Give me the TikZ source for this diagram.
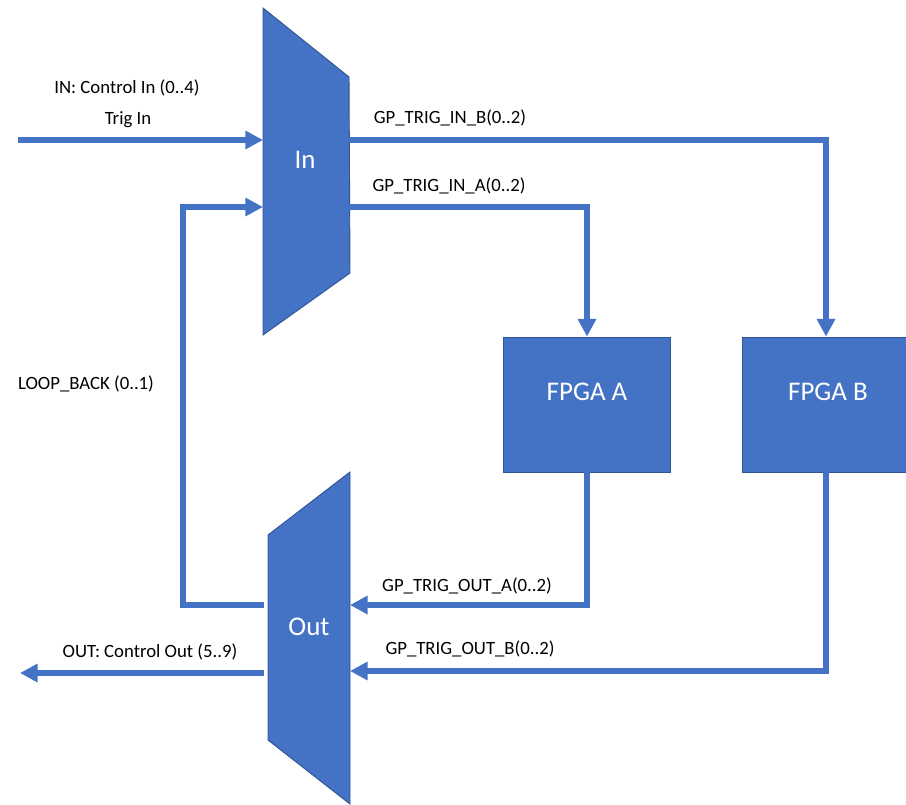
\documentclass[tikz,border=0pt]{standalone}
\usepackage{fontspec}
\setmainfont{Carlito}
\usetikzlibrary{arrows.meta}
\definecolor{muxblue}{HTML}{4472C4}
\definecolor{edgeblue}{HTML}{2F5597}

\begin{document}
\begin{tikzpicture}[x=0.03cm, y=-0.03cm]
        \useasboundingbox (0,0) rectangle (906,804);
        \tikzstyle{wire}=[draw=muxblue, line width=4.5pt, line join=miter, -{Triangle[length=15pt,width=15pt]}]
        \tikzstyle{mux}=[fill=muxblue, draw=edgeblue, line width=0.8pt]
        \tikzstyle{fpga}=[fill=muxblue, draw=edgeblue, line width=0.8pt, text=white,
                          minimum width=5cm, minimum height=4.05cm]
        \tikzstyle{lbl}=[font=\fontsize{16}{19}\selectfont]
        \tikzstyle{bigtext}=[text=white, font=\fontsize{23}{28}\selectfont]
        % the two multiplexers
        \draw[mux] (263,8) -- (349,77) -- (350,273) -- (263,335) -- cycle;
        \draw[mux] (268,535) -- (350,472) -- (350,804) -- (268,740) -- cycle;
        \node[bigtext] (mux-in)  at (305,160) {In};
        \node[bigtext] (mux-out) at (309,627) {Out};
        \node[fpga] (fpga-a) at (587,404.5) {};
        \node[fpga] (fpga-b) at (826,404.5) {};
        \node[bigtext] (fpga-a-txt) at (587,392) {FPGA A};
        \node[bigtext] (fpga-b-txt) at (828,392) {FPGA B};
        % ports
        \coordinate (trig-src) at (18,140);
        \coordinate (in-l1)    at (263,140);
        \coordinate (in-l2)    at (263,207);
        \coordinate (in-r1)    at (349,140);
        \coordinate (in-r2)    at (349,207);
        \coordinate (out-l1)   at (264,605);
        \coordinate (out-l2)   at (264,673);
        \coordinate (out-r1)   at (350,605);
        \coordinate (out-r2)   at (350,671);
        \coordinate (out-dst)  at (20,673);
        \coordinate (loop)     at (183,400);
        % connectors
        \draw[wire] (trig-src) -- (in-l1);
        \draw[wire] (in-r1) -| (fpga-b.north);
        \draw[wire] (in-r2) -| (fpga-a.north);
        \draw[wire] (fpga-a.south) |- (out-r1);
        \draw[wire] (fpga-b.south) |- (out-r2);
        \draw[wire] (out-l1) -| (loop) |- (in-l2);
        \draw[wire] (out-l2) -- (out-dst);
        % labels
        \node[lbl] (ctrl-in)  at (127,88)  {IN: Control In (0..4)};
        \node[lbl] (trig-in)  at (128,120) {Trig In};
        \node[lbl] (in-b)     at (450,118) {GP\_TRIG\_IN\_B(0..2)};
        \node[lbl] (in-a)     at (449,186) {GP\_TRIG\_IN\_A(0..2)};
        \node[lbl] (loopback) at (86,384)  {LOOP\_BACK (0..1)};
        \node[lbl] (out-a)    at (467,586) {GP\_TRIG\_OUT\_A(0..2)};
        \node[lbl] (out-b)    at (470,649) {GP\_TRIG\_OUT\_B(0..2)};
        \node[lbl] (ctrl-out) at (150,652) {OUT: Control Out (5..9)};
    \end{tikzpicture}
\end{document}
